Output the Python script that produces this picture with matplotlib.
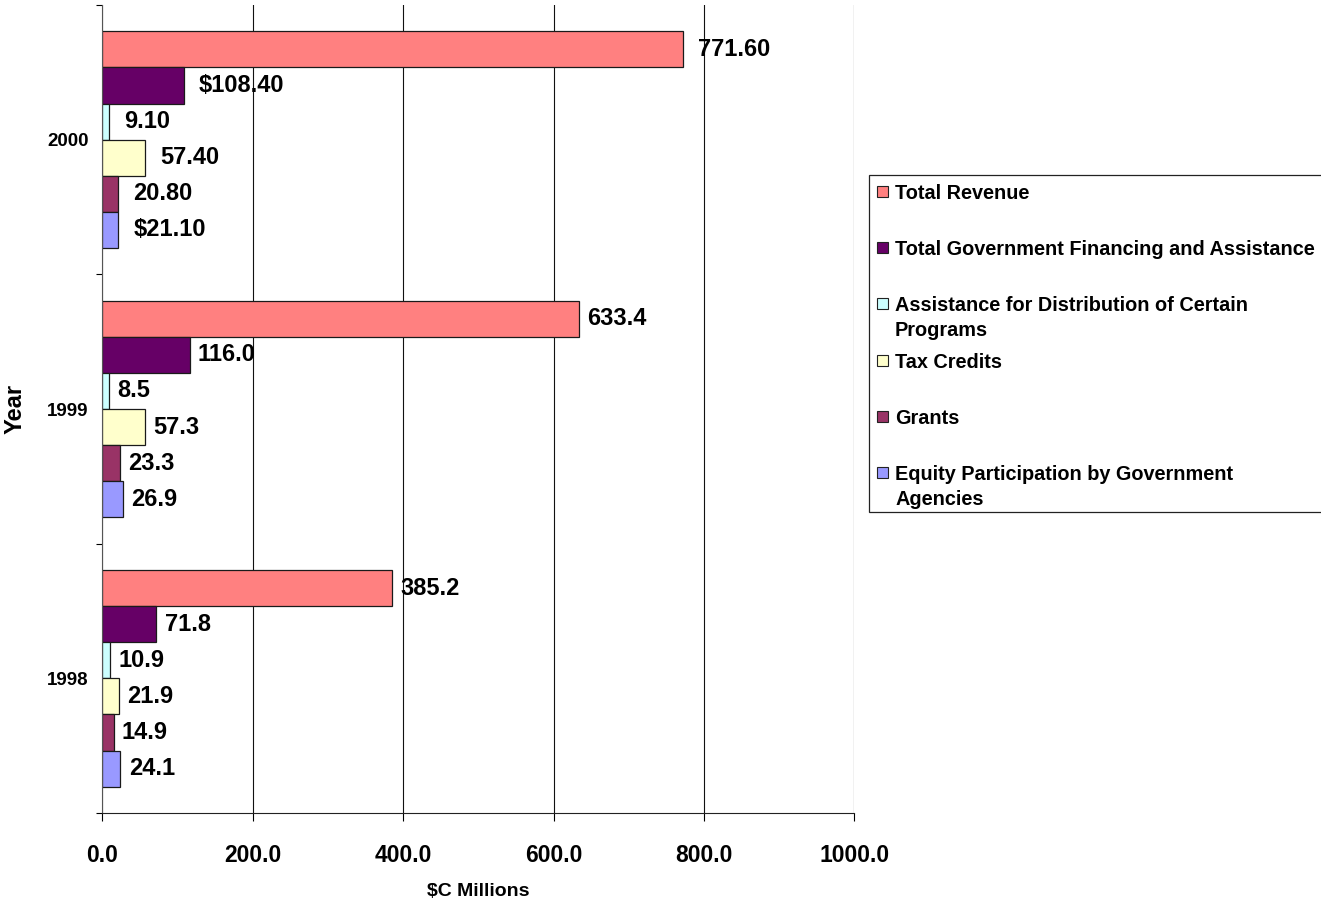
import matplotlib
matplotlib.use("Agg")
import numpy as np
from matplotlib import pyplot as plt
from matplotlib.patches import Rectangle

# ==========================================================
# DATA
# ==========================================================
years = ["1998", "1999", "2000"]
series = ["Total Revenue",
          "Total Government Financing and Assistance",
          "Assistance for Distribution of Certain\nPrograms",
          "Tax Credits",
          "Grants",
          "Equity Participation by Government\nAgencies"]

total_revenue = [385.2, 633.4, 771.6]
total_gov = [71.8, 116.0, 108.4]
assistance = [10.9, 8.5, 9.1]
tax_credits = [21.9, 57.3, 57.4]
grants = [14.9, 23.3, 20.8]
equity = [24.1, 26.9, 21.1]

# labels as they appear on the chart (per series, per year)
labels_revenue = ["385.2", "633.4", "771.60"]
labels_gov = ["71.8", "116.0", "$108.40"]
labels_assist = ["10.9", "8.5", "9.10"]
labels_tax = ["21.9", "57.3", "57.40"]
labels_grants = ["14.9", "23.3", "20.80"]
labels_equity = ["24.1", "26.9", "$21.10"]

xticks = [0, 200, 400, 600, 800, 1000]

# ==========================================================
# STYLE
# ==========================================================
colors = ["#FF8080", "#660066", "#CCFFFF", "#FFFFCC", "#993366", "#9999FF"]
plt.rcParams["font.family"] = ["Liberation Sans", "DejaVu Sans"]
plt.rcParams["font.weight"] = "bold"

values = [total_revenue, total_gov, assistance, tax_credits, grants, equity]
labels = [labels_revenue, labels_gov, labels_assist, labels_tax,
          labels_grants, labels_equity]
label_offset = [6, 6, 11]  # points, per year

W, H = 1321, 900
fig = plt.figure(figsize=(W / 100, H / 100), dpi=100)
ax = fig.add_axes([102.3 / W, 1 - 813 / H, 752 / W, 808 / H])

h = 0.134
ypos = np.arange(len(years))
for i, (vals, labs, col) in enumerate(zip(values, labels, colors)):
    y = ypos + (2.5 - i) * h
    ax.barh(y, vals, height=h, color=col, edgecolor="#1a1a1a",
            linewidth=0.9, zorder=2)
    for j in range(len(years)):
        ax.annotate(labs[j], (vals[j], y[j]), xytext=(label_offset[j], 0),
                    textcoords="offset points", ha="left", va="center",
                    fontsize=17, fontweight="bold", zorder=3)

ax.set_xlim(0, 1000)
ax.set_ylim(-0.5, 2.5)
ax.set_axisbelow(True)
ax.grid(axis="x", color="#111111", linewidth=0.8)

ax.set_xticks(xticks)
ax.set_xticklabels([f"{v:.1f}" for v in xticks], fontsize=16.5,
                   fontweight="bold")
ax.tick_params(axis="x", direction="out", length=6, width=0.8, pad=16)

ax.set_yticks(ypos)
ax.set_yticklabels(years, fontsize=13.5, fontweight="bold")
ax.set_yticks([-0.5, 0.5, 1.5, 2.5], minor=True)
ax.tick_params(axis="y", which="major", length=0, pad=10)
ax.tick_params(axis="y", which="minor", length=4, width=0.8, direction="out")

for s in ["top", "right"]:
    ax.spines[s].set_visible(False)
ax.spines["left"].set_color("#555555")
ax.spines["bottom"].set_color("#222222")

ax.set_xlabel("$C Millions", fontsize=14, fontweight="bold", labelpad=12)
ax.set_ylabel("Year", fontsize=17, fontweight="bold")
ax.yaxis.set_label_coords(-(102.3 - 27) / 752, 0.5)

# ==========================================================
# LEGEND (drawn by hand to keep Excel-like even spacing)
# ==========================================================
fig.add_artist(Rectangle((869 / W, 1 - 512 / H), (W + 10 - 869) / W,
                         (512 - 174.5) / H, transform=fig.transFigure,
                         facecolor="white", edgecolor="#222222",
                         linewidth=0.9))
for i, (name, col) in enumerate(zip(series, colors)):
    yc = 191.5 + i * 56.2
    fig.add_artist(Rectangle((877 / W, 1 - (yc + 5.5) / H), 11 / W, 11 / H,
                             transform=fig.transFigure, facecolor=col,
                             edgecolor="#222222", linewidth=0.8))
    for k, line in enumerate(name.split("\n")):
        fig.text(895 / W, 1 - (yc + k * 25) / H, line, fontsize=14.3,
                 fontweight="bold", ha="left", va="center_baseline")

fig.savefig("out.png", dpi=100)
